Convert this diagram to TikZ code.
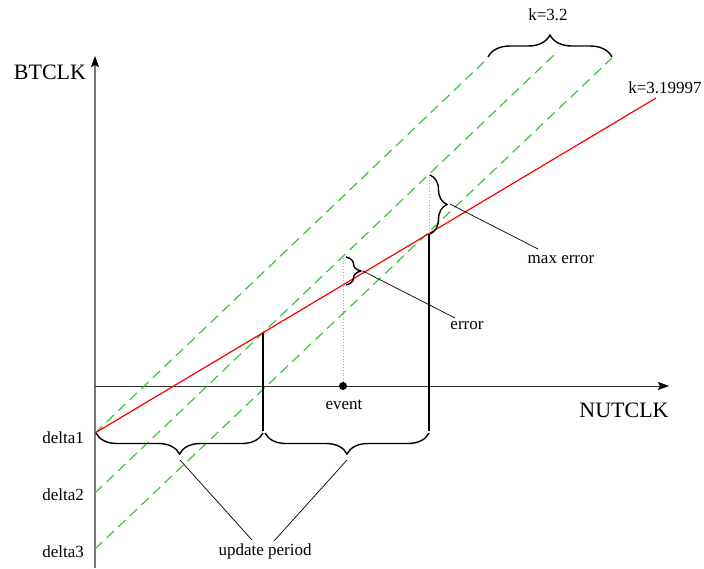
\documentclass[tikz,border=0pt]{standalone}
\usepackage{fontspec}
\setmainfont{Liberation Serif}
\usetikzlibrary{decorations.pathreplacing,arrows.meta}
\definecolor{gline}{RGB}{55,200,55}
\definecolor{rline}{RGB}{255,0,0}
\definecolor{axgray}{RGB}{120,120,120}
\begin{document}
\begin{tikzpicture}[x=1pt,y=-1pt,
  lbl/.style={font=\fontsize{17}{20}\selectfont, inner sep=0pt},
  axlbl/.style={font=\fontsize{22}{26}\selectfont, inner sep=0pt},
  greenline/.style={draw=gline, line width=1.2pt, dash pattern=on 10pt off 6pt},
  redline/.style={draw=rline, line width=1.2pt},
  brc/.style={decorate, decoration={brace, amplitude=#1}, line width=1.4pt},
  leader/.style={draw=black, line width=0.7pt},
  vline/.style={draw=black, line width=1.4pt},
  dotline/.style={draw=gray!70, line width=0.8pt, dotted},
  axtip/.style={-{Stealth[length=11pt,width=8pt,inset=2pt,color=black]}}]
\useasboundingbox (0,0) rectangle (704,568);

% coordinates
\coordinate (ybot) at (95,568);
\coordinate (ytop) at (95,56);
\coordinate (xleft) at (95,386);
\coordinate (xright) at (669,386);
\coordinate (d1) at (95,433);
\coordinate (d2) at (95,493);
\coordinate (d3) at (95,549);
\coordinate (g1) at (487,59);
\coordinate (g2) at (555,54);
\coordinate (g3) at (612,58);
\coordinate (rend) at (656,98);

% axes
\draw[axgray, line width=1.3pt, axtip] (ybot) -- (ytop);
\draw[black!80, line width=0.8pt, axtip] (xleft) -- (xright);

% green dashed lines
\draw[greenline] (d1) -- (g1);
\draw[greenline] (d2) -- (g2);
\draw[greenline] (d3) -- (g3);

% red line
\draw[redline] (d1) -- (rend);

% vertical lines
\coordinate (v1t) at (263,333);
\coordinate (v1b) at (263,431);
\coordinate (v2t) at (429,234);
\coordinate (v2b) at (429,431);
\draw[vline] (v1t) -- (v1b);
\draw[vline] (v2t) -- (v2b);

% event
\node[circle, fill=black, inner sep=0pt, minimum size=8pt] (ev) at (343,386) {};
\coordinate (evtop) at (343,256);
\draw[dotline] (ev) -- (evtop);
\node[lbl] (evl) at (344,405) {event};

% max error dotted
\coordinate (mtop) at (429,175);
\draw[dotline] (v2t) -- (mtop);

% braces
\coordinate (b1a) at (263,433);
\coordinate (b1b) at (96,433);
\draw[brc=21pt] (b1a) -- (b1b);
\coordinate (b2a) at (429,433);
\coordinate (b2b) at (265,433);
\draw[brc=21pt] (b2a) -- (b2b);
\coordinate (k1) at (488,57);
\coordinate (k2) at (612,57);
\draw[brc=22pt] (k1) -- (k2);
\coordinate (e1) at (346,257);
\coordinate (e2) at (346,285);
\draw[brc=15pt] (e1) -- (e2);
\coordinate (m1) at (430,175);
\coordinate (m2) at (430,234);
\draw[brc=17pt] (m1) -- (m2);

% labels
\node[axlbl] (bt) at (50,72) {BTCLK};
\node[axlbl] (nu) at (624,410) {NUTCLK};
\node[lbl, anchor=east] (l1) at (84,438) {delta1};
\node[lbl, anchor=east] (l2) at (84,495) {delta2};
\node[lbl, anchor=east] (l3) at (84,552) {delta3};
\node[lbl] (kk) at (548,15) {k=3.2};
\node[lbl] (kr) at (665,88) {k=3.19997};
\node[lbl] (er) at (467,326) {error};
\node[lbl] (me) at (561,260) {max error};
\node[lbl] (up) at (265,551) {update period};

% leaders
\coordinate (et) at (363,271);
\coordinate (ee) at (455,318);
\draw[leader] (et) -- (ee);
\coordinate (mt) at (450,204);
\coordinate (mee) at (538,249);
\draw[leader] (mt) -- (mee);
\coordinate (u1) at (180,460);
\coordinate (u1e) at (252,540);
\draw[leader] (u1) -- (u1e);
\coordinate (u2) at (347,460);
\coordinate (u2e) at (274,541);
\draw[leader] (u2) -- (u2e);
\end{tikzpicture}
\end{document}
